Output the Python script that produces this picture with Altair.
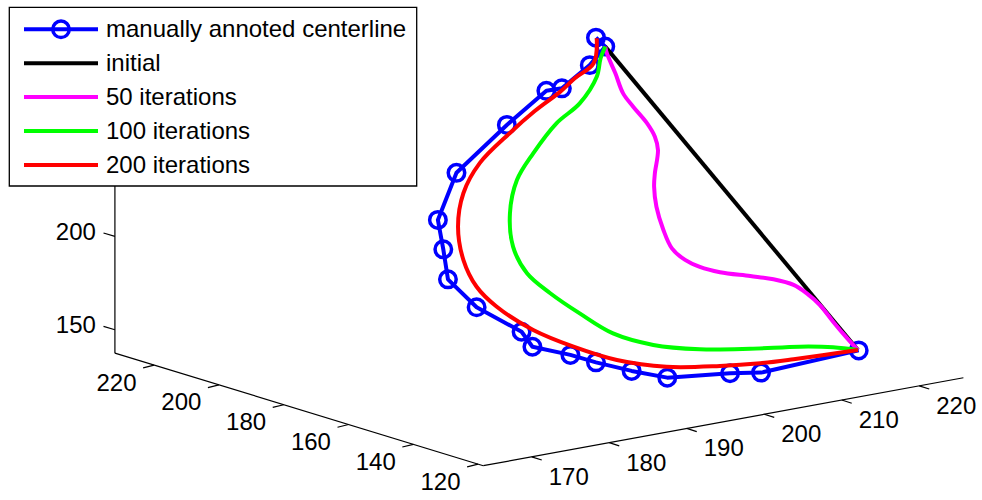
import altair as alt
import pandas as pd

# ---------------- data ----------------
# 3-D axis limits and tick values
x_limits = [163.75, 225.7]
y_limits = [118.4, 232.1]
z_limits = [137.5, 320.0]
x_ticks = [170, 180, 190, 200, 210, 220]
y_ticks = [120, 140, 160, 180, 200, 220]
z_ticks = [150, 200, 250, 300]

# depth (y) of the curves cannot be read from a 2-D view; estimated as one plane
curve_depth_y = 150.0

manual_x = [191.5, 192.7, 190.7, 187.1, 185.1, 180.0, 173.5, 171.1, 171.8, 172.4,
            176.1, 181.9, 183.3, 188.2, 191.5, 196.1, 200.7, 208.8, 212.8, 225.4]
manual_z = [328.9, 323.2, 314.8, 305.1, 305.3, 290.9, 270.2, 246.8, 230.5, 214.0,
            196.2, 178.7, 169.6, 161.5, 155.0, 146.9, 139.8, 136.0, 133.3, 135.6]

initial_x = [192.7, 225.3]
initial_z = [323.2, 135.9]

it50_x = [192.7, 192.9, 194.0, 195.0, 196.3, 198.1, 199.1, 199.5, 199.1, 199.0, 199.3, 200.2,
          201.3, 203.0, 204.9, 207.5, 211.4, 214.4, 217.0, 218.7, 220.4, 222.1, 223.9, 225.3]
it50_z = [323.2, 319.5, 307.9, 296.4, 288.3, 278.0, 270.1, 262.6, 250.5, 243.4, 232.4, 219.3,
          208.6, 201.1, 195.9, 191.1, 186.1, 182.1, 177.1, 171.3, 163.7, 153.5, 143.3, 135.9]

it100_x = [192.7, 192.1, 191.6, 189.4, 186.4, 183.4, 181.3, 180.4, 180.8, 182.6,
           185.6, 189.4, 193.7, 198.9, 204.9, 211.4, 217.8, 222.1, 225.3]
it100_z = [323.2, 317.5, 307.9, 295.3, 286.9, 273.1, 260.4, 243.3, 225.1, 209.5,
           196.5, 182.8, 168.8, 158.7, 151.8, 147.1, 143.4, 139.8, 135.9]

it200_x = [191.6, 191.2, 188.8, 186.9, 183.6, 180.4, 176.5, 174.4, 173.7, 174.4,
           176.1, 178.7, 183.4, 188.6, 194.2, 200.6, 207.5, 212.7, 217.0, 225.3]
it200_z = [328.5, 315.4, 309.3, 303.5, 295.6, 286.3, 273.1, 258.7, 241.2, 222.8,
           207.2, 194.5, 178.5, 165.6, 154.2, 145.7, 140.9, 138.4, 137.3, 135.9]

legend_labels = ["manually annoted centerline", "initial", "50 iterations",
                 "100 iterations", "200 iterations"]
legend_colors = ["#0000ff", "#000000", "#ff00ff", "#00ff00", "#ff0000"]

# ---------------- view (projection of the 3-D box onto the page) ----------------
W, H = 982, 500
ORIGIN = (483.3, 465.7)          # page position of (xmin, ymin, zmin)
EX = (7.75, -1.42)               # page shift per unit of x
EY = (-3.24, -0.99)              # page shift per unit of y
EZ = (0.0, -1.867)               # page shift per unit of z


def proj(x, y, z):
    dx, dy, dz = x - x_limits[0], y - y_limits[0], z - z_limits[0]
    return (ORIGIN[0] + EX[0] * dx + EY[0] * dy + EZ[0] * dz,
            ORIGIN[1] + EX[1] * dx + EY[1] * dy + EZ[1] * dz)


FONT = "Liberation Sans"
FS = 24
XS = alt.Scale(domain=[0, W], nice=False, zero=False)
YS = alt.Scale(domain=[H, 0], nice=False, zero=False)


def X(f):
    return alt.X(f, type="quantitative", scale=XS, axis=None)


def Y(f):
    return alt.Y(f, type="quantitative", scale=YS, axis=None)


layers = []

# axis lines
xmin, xmax = x_limits
ymin, ymax = y_limits
zmin, zmax = z_limits
segs = [((xmin, ymin, zmin), (xmax, ymin, zmin)),
        ((xmin, ymin, zmin), (xmin, ymax, zmin)),
        ((xmin, ymax, zmin), (xmin, ymax, zmax))]
axis_rows = []
for a, b in segs:
    pa, pb = proj(*a), proj(*b)
    axis_rows.append({"sx": pa[0], "sy": pa[1], "sx2": pb[0], "sy2": pb[1]})

tick_rows = []
lab = {"x": [], "y": [], "z": []}
for v in x_ticks:
    p = proj(v, ymin, zmin)
    tick_rows.append({"sx": p[0], "sy": p[1], "sx2": p[0] + 10, "sy2": p[1] + 3.2})
    lab["x"].append({"lx": p[0] + 37, "ly": p[1] + 21, "t": str(v)})
for v in y_ticks:
    p = proj(xmin, v, zmin)
    tick_rows.append({"sx": p[0], "sy": p[1], "sx2": p[0] - 11, "sy2": p[1] + 2.7})
    lab["y"].append({"lx": p[0] - 37.6, "ly": p[1] + 18.4, "t": str(v)})
for v in z_ticks:
    p = proj(xmin, ymax, v)
    tick_rows.append({"sx": p[0], "sy": p[1], "sx2": p[0] - 11.4, "sy2": p[1] - 3.4})
    lab["z"].append({"lx": p[0] - 19, "ly": p[1] - 3.4, "t": str(v)})

rule_df = pd.DataFrame(axis_rows + tick_rows)
layers.append(alt.Chart(rule_df).mark_rule(color="black", strokeWidth=1.2).encode(
    x=X("sx"), y=Y("sy"), x2="sx2", y2="sy2"))

for k, al in (("x", "center"), ("y", "center"), ("z", "right")):
    layers.append(alt.Chart(pd.DataFrame(lab[k])).mark_text(
        font=FONT, fontSize=FS, align=al, baseline="middle", color="black").encode(
        x=X("lx"), y=Y("ly"), text="t:N"))


def curve_df(xs, zs):
    rows = []
    for i, (x, z) in enumerate(zip(xs, zs)):
        s = proj(x, curve_depth_y, z)
        rows.append({"sx": s[0], "sy": s[1], "i": i})
    return pd.DataFrame(rows)


# manually annotated centreline (drawn first, as in the original)
mdf = curve_df(manual_x, manual_z)
layers.append(alt.Chart(mdf).mark_line(color=legend_colors[0], strokeWidth=4,
                                       strokeJoin="round").encode(
    x=X("sx"), y=Y("sy"), order="i:Q"))
layers.append(alt.Chart(mdf).mark_point(shape="circle", filled=False, size=272,
                                        strokeWidth=3.5, color=legend_colors[0],
                                        opacity=1).encode(x=X("sx"), y=Y("sy")))

for (xs, zs), col, interp in (((initial_x, initial_z), legend_colors[1], "linear"),
                              ((it50_x, it50_z), legend_colors[2], "catmull-rom"),
                              ((it100_x, it100_z), legend_colors[3], "catmull-rom"),
                              ((it200_x, it200_z), legend_colors[4], "catmull-rom")):
    layers.append(alt.Chart(curve_df(xs, zs)).mark_line(
        color=col, strokeWidth=4, strokeJoin="round", interpolate=interp).encode(
        x=X("sx"), y=Y("sy"), order="i:Q"))

# legend (box drawn over the plot like MATLAB's)
box = pd.DataFrame([{"a": 9.3, "b": 416.7, "c": 7.3, "d": 186.0}])
layers.append(alt.Chart(box).mark_rect(fill="white", stroke="black", strokeWidth=1.3).encode(
    x=X("a"), x2="b", y=Y("c"), y2="d"))
leg = pd.DataFrame({"label": legend_labels, "color": legend_colors,
                    "ly": [29.3 + 33.9 * i for i in range(len(legend_labels))]})
leg["x1"] = 24.0
leg["x2"] = 98.0
leg["tx"] = 106.0
leg["ty"] = leg["ly"] + 8.0
leg["mx"] = 61.0
cscale = alt.Scale(domain=legend_labels, range=legend_colors)
layers.append(alt.Chart(leg).mark_rule(strokeWidth=4).encode(
    x=X("x1"), x2="x2", y=Y("ly"),
    color=alt.Color("label:N", scale=cscale, legend=None)))
layers.append(alt.Chart(leg.iloc[[0]]).mark_point(shape="circle", filled=False, size=272,
                                                  strokeWidth=3.5, opacity=1).encode(
    x=X("mx"), y=Y("ly"), color=alt.Color("label:N", scale=cscale, legend=None)))
layers.append(alt.Chart(leg).mark_text(font=FONT, fontSize=FS, align="left",
                                       baseline="alphabetic", color="black").encode(
    x=X("tx"), y=Y("ty"), text="label:N"))

chart = alt.layer(*layers).properties(
    width=W, height=H, padding=0, autosize=alt.AutoSizeParams(type="none"),
    background="white"
).configure_view(stroke=None)

chart.save("out.html", embed_options={"renderer": "svg", "actions": False})
